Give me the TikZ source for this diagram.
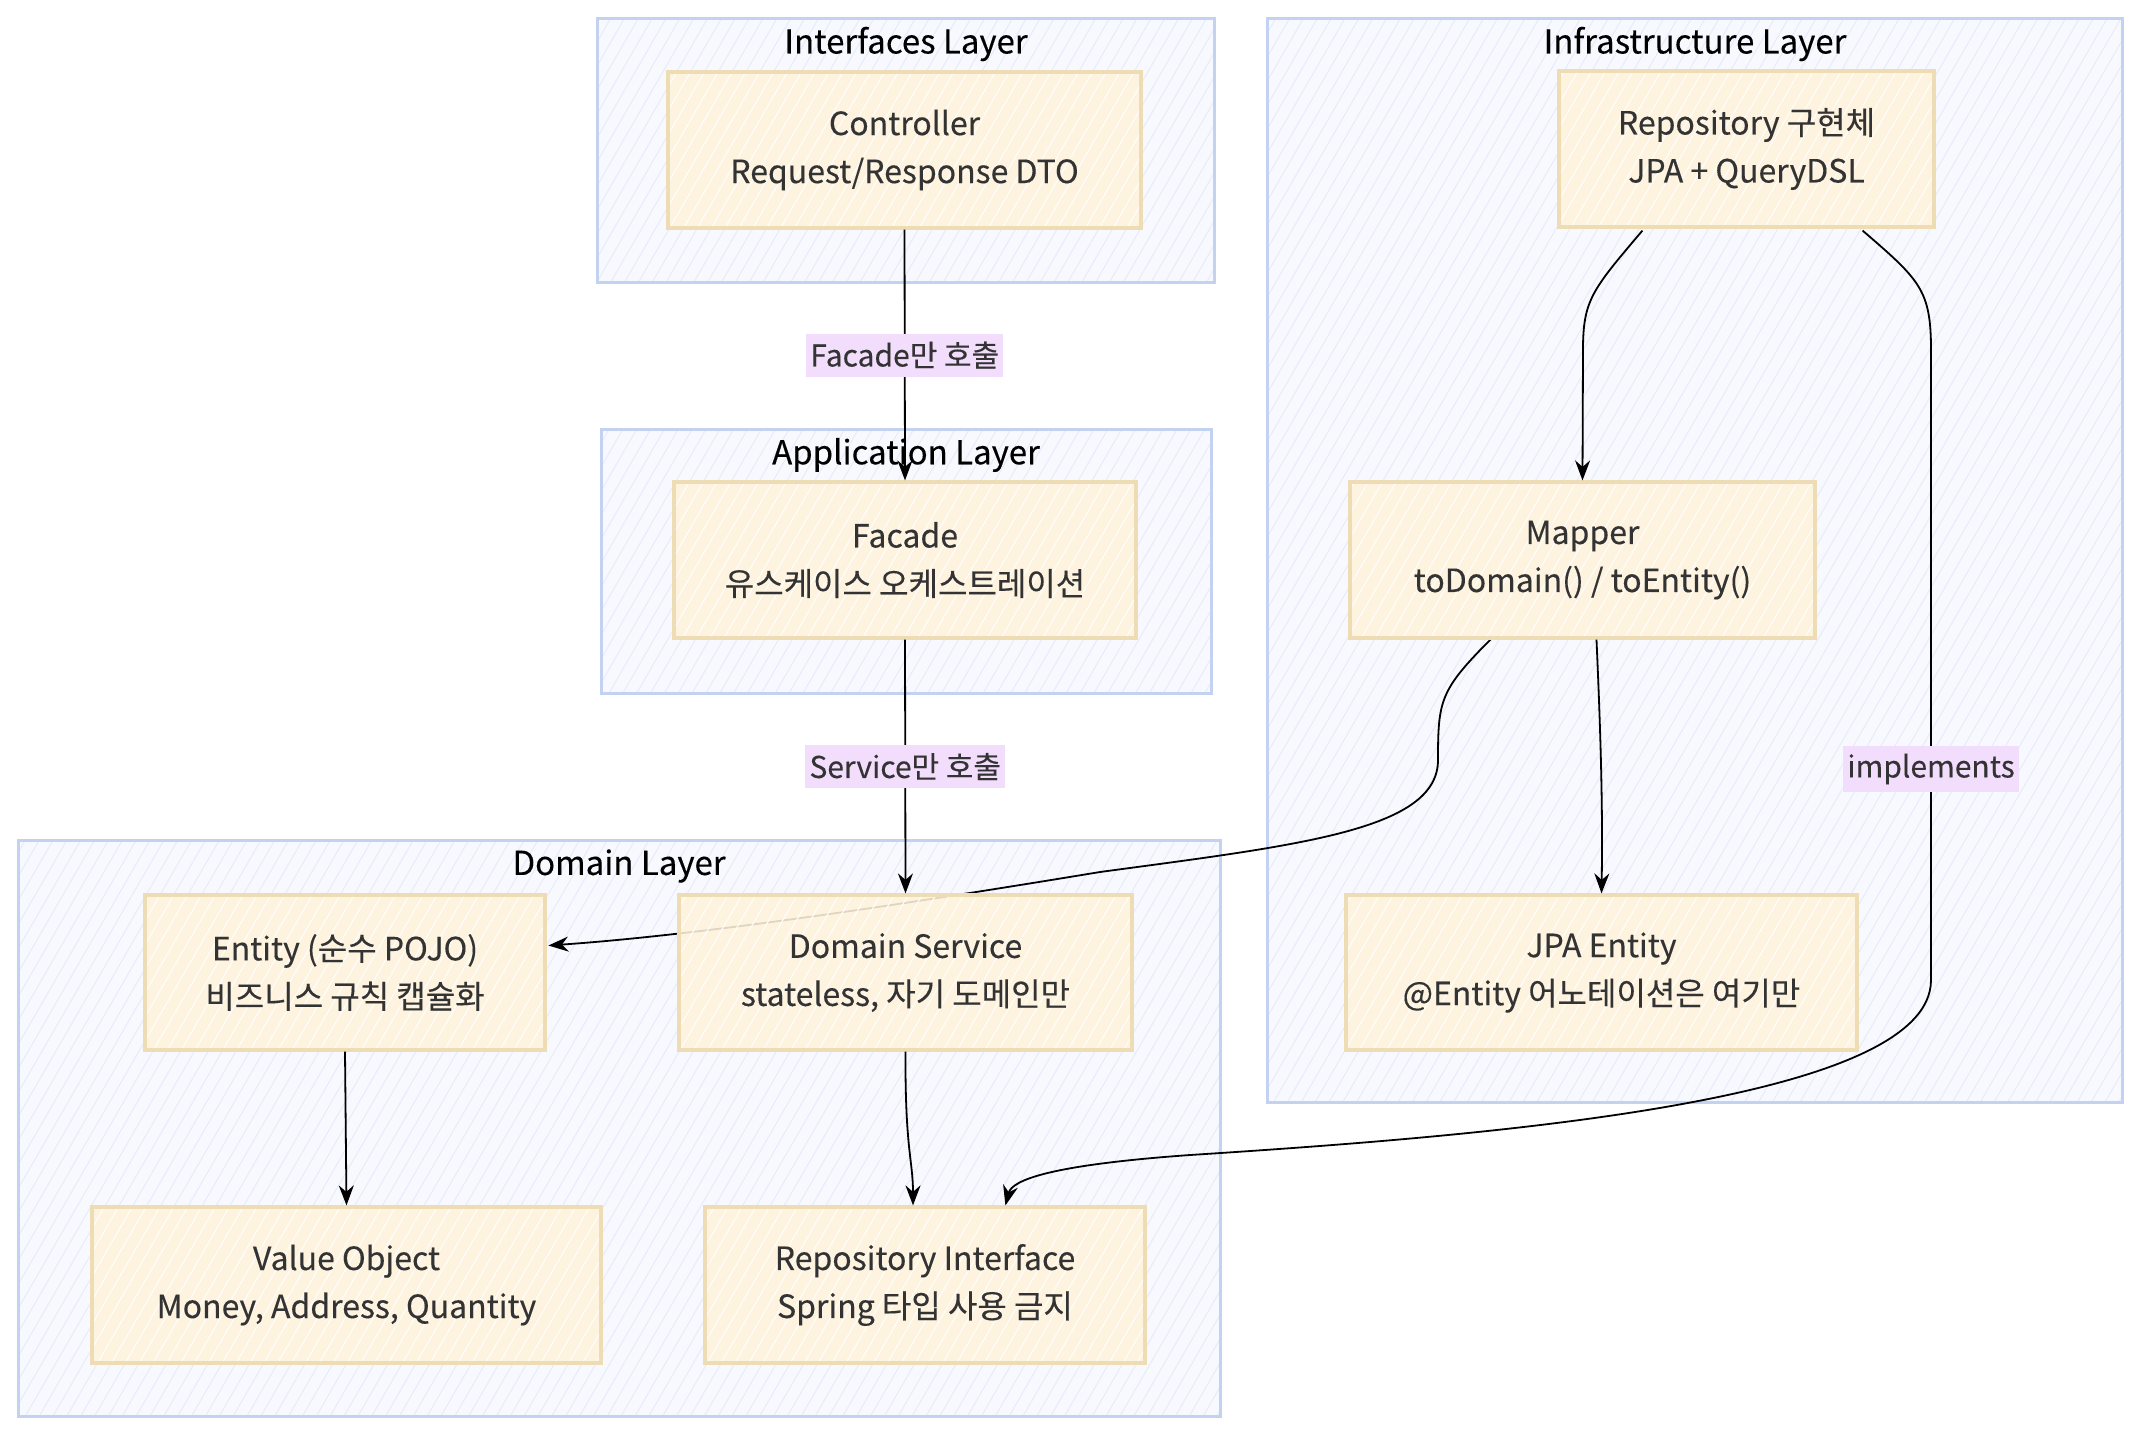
\documentclass[tikz,border=0pt]{standalone}
\usepackage{fontspec}
\setmainfont{Noto Sans CJK KR}[FakeBold=0.25]
\usetikzlibrary{arrows.meta,calc,patterns.meta}
\definecolor{clusterfill}{HTML}{F7F9FF}
\definecolor{clusterhatch}{HTML}{E6ECF8}
\definecolor{clusterline}{HTML}{C3D2F0}
\definecolor{boxfill}{HTML}{FFF3DB}
\definecolor{boxline}{HTML}{EEDCB4}
\definecolor{lblfill}{HTML}{F3DDFD}
\definecolor{textc}{HTML}{333333}
\tikzset{
  cluster/.style={draw=clusterline, line width=1.5pt,
    preaction={fill=clusterfill},
    preaction={pattern={Lines[angle=60,distance=6pt,line width=0.5pt]}, pattern color=clusterhatch}},
  ctitle/.style={text=black, font=\fontsize{16.5}{20}\selectfont, inner sep=0pt},
  box/.style={draw=boxline, line width=1.6pt, align=center, text=textc,
    font=\fontsize{16}{24}\selectfont, inner sep=0pt,
    preaction={fill=boxfill, fill opacity=0.88},
    preaction={pattern={Lines[angle=60,distance=6pt,line width=0.5pt]}, pattern color=white}},
  arr/.style={draw=black, line width=0.9pt, -{Stealth[length=10pt,width=7.5pt]}},
  lbl/.style={fill=lblfill, text=textc, font=\fontsize{15}{18}\selectfont, inner xsep=2pt, inner ysep=4pt}
}
\begin{document}
\begin{tikzpicture}[x=0.5pt,y=-0.5pt]
\useasboundingbox (0,0) rectangle (2143,1436);
% clusters
\draw[cluster] (597,18) rectangle (1214,282);
\draw[cluster] (601,429) rectangle (1211,693);
\draw[cluster] (18,840) rectangle (1220,1416);
\draw[cluster] (1267,18) rectangle (2122,1102);
\node[ctitle] (tIf) at (906,44) {Interfaces Layer};
\node[ctitle] (tApp) at (906,455) {Application Layer};
\node[ctitle] (tDom) at (619,866) {Domain Layer};
\node[ctitle] (tInf) at (1695,44) {Infrastructure Layer};
% coordinates for node placement
\coordinate (cCtrl) at (904.5,150);
\coordinate (cFac) at (905,560);
\coordinate (cEnt) at (345,972.5);
\coordinate (cDs) at (905.5,972.5);
\coordinate (cVo) at (346.5,1285);
\coordinate (cRi) at (925,1285);
\coordinate (cImpl) at (1746.5,149);
\coordinate (cMap) at (1582.5,560);
\coordinate (cJpa) at (1601.5,972.5);
% helper nodes (invisible) for edge anchors drawn before the boxes
\node[minimum width=200pt, minimum height=77.5pt, inner sep=0pt] (entityA) at (cEnt) {};
\node[minimum width=232.5pt, minimum height=78pt, inner sep=0pt] (mapperA) at (cMap) {};
% edge that runs beneath Domain Service
\draw[arr] ($(mapperA.south west)+(142,0)$) .. controls (1440,690) and (1438,700) .. (1438,760)
  .. controls (1438,830) and (1300,845) .. (1100,872)
  .. controls (900,905) and (700,935) .. ($(entityA.east)+(3,-27)$);
% nodes
\node[box, minimum width=236.5pt, minimum height=78pt] (ctrl) at (cCtrl) {Controller\\Request/Response DTO};
\node[box, minimum width=231pt, minimum height=78pt] (facade) at (cFac) {Facade\\유스케이스 오케스트레이션};
\node[box, minimum width=200pt, minimum height=77.5pt] (entity) at (cEnt) {Entity (순수 POJO)\\비즈니스 규칙 캡슐화};
\node[box, minimum width=226.5pt, minimum height=77.5pt] (dsvc) at (cDs) {Domain Service\\stateless, 자기 도메인만};
\node[box, minimum width=254.5pt, minimum height=78pt] (vo) at (cVo) {Value Object\\Money, Address, Quantity};
\node[box, minimum width=220pt, minimum height=78pt] (repoint) at (cRi) {Repository Interface\\Spring 타입 사용 금지};
\node[box, minimum width=187.5pt, minimum height=78pt] (repoimpl) at (cImpl) {Repository 구현체\\JPA + QueryDSL};
\node[box, minimum width=232.5pt, minimum height=78pt] (mapper) at (cMap) {Mapper\\toDomain() / toEntity()};
\node[box, minimum width=255.5pt, minimum height=77.5pt] (jpa) at (cJpa) {JPA Entity\\@Entity 어노테이션은 여기만};
% edges
\draw[arr] (ctrl.south) -- node[lbl, pos=0.5] (l1) {Facade만 호출} (facade.north);
\draw[arr] (facade.south) -- node[lbl, pos=0.5] (l2) {Service만 호출} (dsvc.north);
\draw[arr] ($(repoimpl.south west)+(85,2)$) .. controls (1592,290) and (1583,300) .. (1583,350) -- (mapper.north);
\draw[arr] ($(mapper.south)+(14,0)$) .. controls (1600,720) and (1603,800) .. (jpa.north);
\draw[arr] ($(repoimpl.south east)+(-73,2)$) .. controls (1920,280) and (1931,290) .. (1931,350)
  -- node[lbl, pos=0.665] (l3) {implements} (1931,980)
  .. controls (1931,1100) and (1500,1135) .. (1190,1155)
  .. controls (1050,1165) and (1012,1180) .. ($(repoint.north west)+(302,0)$);
\draw[arr] (entity.south) -- (vo.north);
\draw[arr] (dsvc.south) .. controls (905,1150) and (913,1160) .. ($(repoint.north)+(-12,0)$);
\end{tikzpicture}
\end{document}
